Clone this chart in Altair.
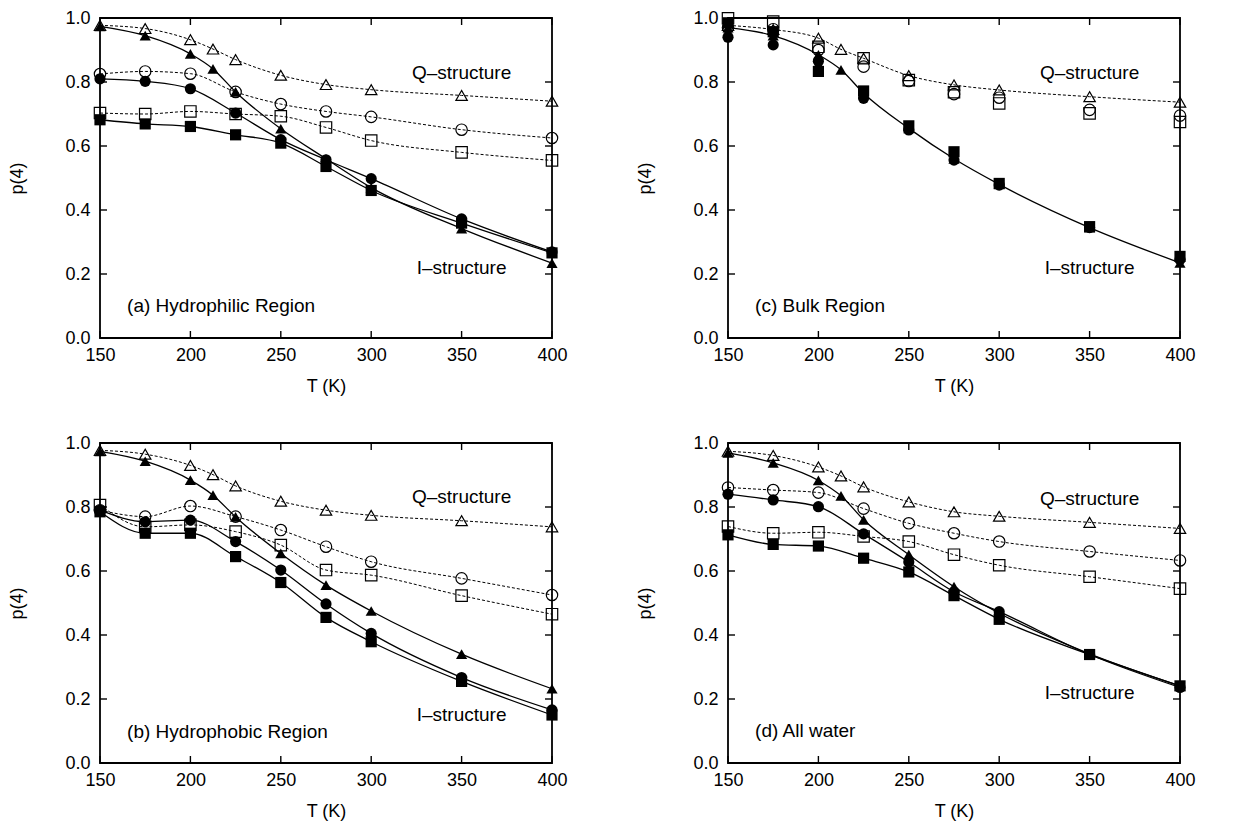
import altair as alt
import pandas as pd

# Temperatures (K)
T9 = [150, 175, 200, 225, 250, 275, 300, 350, 400]
T10 = [150, 175, 200, 212.5, 225, 250, 275, 300, 350, 400]

# Axis tick values
XT = [150, 200, 250, 300, 350, 400]
YT = [0.0, 0.2, 0.4, 0.6, 0.8, 1.0]

# (a) Hydrophilic Region
A_I_TRI = [0.974, 0.945, 0.888, 0.841, 0.769, 0.654, 0.560, 0.470, 0.342, 0.234]
A_I_CIR = [0.810, 0.802, 0.779, 0.703, 0.620, 0.557, 0.498, 0.372, 0.269]
A_I_SQR = [0.682, 0.669, 0.661, 0.635, 0.609, 0.536, 0.461, 0.359, 0.266]
A_Q_TRI = [0.977, 0.967, 0.932, 0.903, 0.870, 0.821, 0.792, 0.776, 0.758, 0.740]
A_Q_CIR = [0.825, 0.833, 0.826, 0.769, 0.731, 0.708, 0.691, 0.651, 0.625]
A_Q_SQR = [0.703, 0.700, 0.708, 0.700, 0.693, 0.658, 0.617, 0.580, 0.555]

# (b) Hydrophobic Region
B_I_TRI = [0.974, 0.943, 0.884, 0.837, 0.769, 0.655, 0.556, 0.475, 0.340, 0.232]
B_I_CIR = [0.790, 0.754, 0.759, 0.692, 0.603, 0.497, 0.405, 0.267, 0.166]
B_I_SQR = [0.785, 0.718, 0.718, 0.645, 0.564, 0.455, 0.379, 0.255, 0.150]
B_Q_TRI = [0.977, 0.965, 0.930, 0.901, 0.866, 0.818, 0.790, 0.774, 0.757, 0.738]
B_Q_CIR = [0.790, 0.770, 0.803, 0.770, 0.728, 0.676, 0.629, 0.577, 0.525]
B_Q_SQR = [0.806, 0.738, 0.744, 0.723, 0.681, 0.603, 0.587, 0.523, 0.465]

# (c) Bulk Region
C_I_TRI = [0.970, 0.945, 0.885, 0.838, 0.765, 0.655, 0.560, 0.480, 0.345, 0.235]
C_I_CIR = [0.940, 0.916, 0.865, 0.749, 0.650, 0.556, 0.478, 0.345, 0.245]
C_I_SQR = [0.985, 0.957, 0.833, 0.772, 0.663, 0.582, 0.483, 0.348, 0.255]
C_Q_TRI = [0.977, 0.964, 0.937, 0.902, 0.874, 0.820, 0.791, 0.775, 0.754, 0.737]
C_Q_CIR = [0.970, 0.965, 0.900, 0.848, 0.803, 0.762, 0.751, 0.713, 0.695]
C_Q_SQR = [0.999, 0.989, 0.910, 0.874, 0.806, 0.768, 0.733, 0.702, 0.675]

# (d) All water
D_I_TRI = [0.969, 0.938, 0.883, 0.835, 0.760, 0.651, 0.551, 0.468, 0.341, 0.241]
D_I_CIR = [0.840, 0.822, 0.801, 0.716, 0.628, 0.535, 0.473, 0.339, 0.236]
D_I_SQR = [0.713, 0.683, 0.678, 0.640, 0.597, 0.523, 0.449, 0.339, 0.241]
D_Q_TRI = [0.974, 0.961, 0.925, 0.897, 0.863, 0.816, 0.785, 0.771, 0.752, 0.733]
D_Q_CIR = [0.861, 0.853, 0.845, 0.795, 0.749, 0.718, 0.692, 0.661, 0.633]
D_Q_SQR = [0.739, 0.718, 0.721, 0.708, 0.692, 0.651, 0.618, 0.582, 0.545]

PANELS = {
    "a": {"I": {"tri": A_I_TRI, "cir": A_I_CIR, "sqr": A_I_SQR},
          "Q": {"tri": A_Q_TRI, "cir": A_Q_CIR, "sqr": A_Q_SQR},
          "label": "(a) Hydrophilic Region", "lines": ["tri", "cir", "sqr"],
          "qy": 0.828, "iy": 0.219, "ly": 0.099},
    "c": {"I": {"tri": C_I_TRI, "cir": C_I_CIR, "sqr": C_I_SQR},
          "Q": {"tri": C_Q_TRI, "cir": C_Q_CIR, "sqr": C_Q_SQR},
          "label": "(c) Bulk Region", "lines": ["tri"],
          "qy": 0.828, "iy": 0.219, "ly": 0.099},
    "b": {"I": {"tri": B_I_TRI, "cir": B_I_CIR, "sqr": B_I_SQR},
          "Q": {"tri": B_Q_TRI, "cir": B_Q_CIR, "sqr": B_Q_SQR},
          "label": "(b) Hydrophobic Region", "lines": ["tri", "cir", "sqr"],
          "qy": 0.830, "iy": 0.151, "ly": 0.097},
    "d": {"I": {"tri": D_I_TRI, "cir": D_I_CIR, "sqr": D_I_SQR},
          "Q": {"tri": D_Q_TRI, "cir": D_Q_CIR, "sqr": D_Q_SQR},
          "label": "(d) All water", "lines": ["tri", "cir", "sqr"],
          "qy": 0.826, "iy": 0.220, "ly": 0.099},
}

W, H = 452, 320
FONT = "Liberation Sans"
FS = 18

shape_scale = alt.Scale(domain=["tri", "cir", "sqr"],
                        range=["triangle-up", "circle", "square"])
xscale = alt.Scale(domain=[150, 400], nice=False, zero=False)
yscale = alt.Scale(domain=[0, 1], nice=False)
xaxis = alt.Axis(values=XT, title="T (K)", format="d", labelFlush=False,
                 labelPadding=8, titlePadding=13)
yaxis = alt.Axis(values=YT, title="p(4)", format=".1f", labelFlush=False,
                 labelPadding=10, titlePadding=38)


def long_df(series):
    rows = []
    for shp, vals in series.items():
        ts = T10 if shp == "tri" else T9
        for t, v in zip(ts, vals):
            rows.append({"T": t, "p": v, "shape": shp})
    return pd.DataFrame(rows)


def panel(key):
    P = PANELS[key]
    dI = long_df(P["I"])
    dQ = long_df(P["Q"])
    lI = dI[dI["shape"].isin(P["lines"])]
    lQ = dQ[dQ["shape"].isin(P["lines"])]

    X = alt.X("T:Q", scale=xscale, axis=xaxis)
    Y = alt.Y("p:Q", scale=yscale, axis=yaxis)

    lineI = alt.Chart(lI).mark_line(interpolate="monotone", color="black",
                                    strokeWidth=1.3).encode(
        x=X, y=Y, detail="shape:N")
    lineQ = alt.Chart(lQ).mark_line(interpolate="monotone", color="black",
                                    strokeWidth=1.0, strokeDash=[3, 2]).encode(
        x=X, y=Y, detail="shape:N")
    ptI = alt.Chart(dI).mark_point(filled=True, color="black", opacity=1,
                                   size=125).encode(
        x=X, y=Y, shape=alt.Shape("shape:N", scale=shape_scale, legend=None))
    ptQ = alt.Chart(dQ).mark_point(filled=False, color="black", opacity=1,
                                   size=130, strokeWidth=1.2).encode(
        x=X, y=Y, shape=alt.Shape("shape:N", scale=shape_scale, legend=None))

    ann = pd.DataFrame({
        "T": [350, 350], "p": [P["qy"], P["iy"]],
        "text": ["Q–structure", "I–structure"]})
    annot = alt.Chart(ann).mark_text(font=FONT, fontSize=19, color="black",
                                     align="center", baseline="middle").encode(
        x=X, y=Y, text="text:N")
    lab = pd.DataFrame({"T": [165], "p": [P["ly"]], "text": [P["label"]]})
    label = alt.Chart(lab).mark_text(font=FONT, fontSize=19, color="black",
                                     align="left", baseline="middle").encode(
        x=X, y=Y, text="text:N")

    xt = pd.DataFrame({"T": XT})
    yt = pd.DataFrame({"p": YT})
    tb = alt.Chart(xt).mark_rule(color="black", strokeWidth=1.4).encode(
        x=X, y=alt.value(H), y2=alt.value(H - 7))
    tt = alt.Chart(xt).mark_rule(color="black", strokeWidth=1.4).encode(
        x=X, y=alt.value(0), y2=alt.value(7))
    tl = alt.Chart(yt).mark_rule(color="black", strokeWidth=1.4).encode(
        y=Y, x=alt.value(0), x2=alt.value(7))
    tr = alt.Chart(yt).mark_rule(color="black", strokeWidth=1.4).encode(
        y=Y, x=alt.value(W), x2=alt.value(W - 7))

    return alt.layer(lineI, lineQ, ptI, ptQ, annot, label, tb, tt, tl, tr).properties(
        width=W, height=H)


chart = alt.concat(
    panel("a"), panel("c"), panel("b"), panel("d"),
    columns=2,
    spacing={"row": 105, "column": 176},
    bounds="flush",
).properties(
    padding={"left": 0, "top": 0, "right": 5, "bottom": 5},
    background="white",
).configure(
    font=FONT,
).configure_view(
    stroke="black", strokeWidth=1.8,
).configure_axis(
    domain=False, ticks=False, grid=False,
    labelFont=FONT, titleFont=FONT,
    labelFontSize=FS, titleFontSize=FS,
    labelColor="black", titleColor="black",
    titleFontWeight="normal",
)

chart.save("out.html", embed_options={"renderer": "svg", "actions": False})
